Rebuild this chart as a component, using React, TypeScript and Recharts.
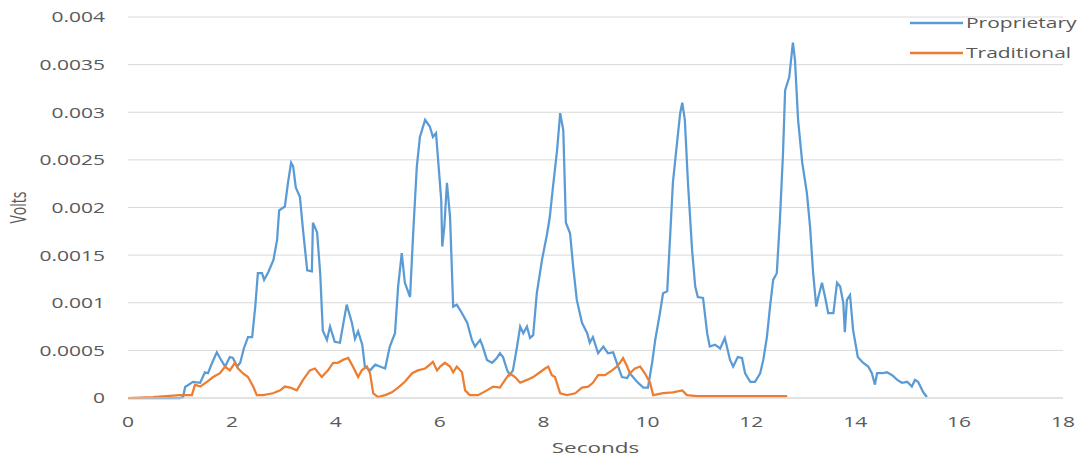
import { LineChart, Line, XAxis, YAxis, CartesianGrid, Label } from 'recharts'

// Proprietary sensor trace (seconds / volts)
const propX = [
  0, 0.5, 1.0, 1.06, 1.1, 1.25, 1.39, 1.48, 1.54, 1.62, 1.71, 1.77, 1.87, 1.96, 2.02, 2.1, 2.16, 2.23, 2.31, 2.39,
  2.45, 2.5, 2.58, 2.62, 2.7, 2.8, 2.87, 2.91, 3.02, 3.08, 3.14, 3.18, 3.23, 3.31, 3.37, 3.45, 3.54, 3.56, 3.64, 3.7,
  3.75, 3.83, 3.89, 3.98, 4.08, 4.21, 4.31, 4.37, 4.43, 4.51, 4.56, 4.66, 4.76, 4.85, 4.95, 5.04, 5.14, 5.2, 5.27, 5.33,
  5.43, 5.49, 5.56, 5.62, 5.72, 5.81, 5.87, 5.93, 5.97, 6.03, 6.05, 6.09, 6.14, 6.2, 6.26, 6.33, 6.43, 6.53, 6.62, 6.68,
  6.78, 6.83, 6.91, 7.01, 7.1, 7.16, 7.22, 7.3, 7.35, 7.41, 7.49, 7.55, 7.61, 7.68, 7.74, 7.8, 7.87, 7.97, 8.07, 8.12,
  8.18, 8.26, 8.32, 8.38, 8.43, 8.51, 8.57, 8.64, 8.74, 8.84, 8.89, 8.95, 9.05, 9.15, 9.24, 9.34, 9.41, 9.51, 9.61, 9.66,
  9.8, 9.92, 10.01, 10.09, 10.15, 10.24, 10.3, 10.38, 10.44, 10.49, 10.57, 10.63, 10.67, 10.72, 10.78, 10.86, 10.92, 10.97, 11.07, 11.15,
  11.2, 11.3, 11.4, 11.49, 11.59, 11.65, 11.74, 11.82, 11.88, 11.98, 12.07, 12.17, 12.23, 12.3, 12.36, 12.42, 12.49, 12.55, 12.61, 12.65,
  12.73, 12.8, 12.84, 12.9, 12.98, 13.07, 13.13, 13.19, 13.25, 13.29, 13.36, 13.42, 13.48, 13.58, 13.65, 13.71, 13.77, 13.8, 13.84, 13.9,
  13.96, 14.05, 14.15, 14.25, 14.32, 14.38, 14.42, 14.52, 14.61, 14.71, 14.81, 14.9, 15.0, 15.09, 15.15, 15.21, 15.31, 15.38,
]
const propY = [
  0, 0, 0, 0.00001, 0.000116, 0.00017, 0.00016, 0.00027, 0.00026, 0.00037, 0.00048, 0.00042, 0.00033, 0.00043, 0.00042, 0.00033, 0.00037, 0.00052, 0.00064, 0.00064,
  0.00096, 0.00131, 0.00131, 0.00124, 0.00132, 0.00145, 0.00166, 0.00197, 0.00201, 0.00226, 0.00247, 0.00243, 0.00221, 0.00211, 0.00176, 0.00134, 0.00133, 0.00184, 0.00174, 0.00131,
  0.00071, 0.00061, 0.00075, 0.00059, 0.00058, 0.00098, 0.00079, 0.00062, 0.0007, 0.00056, 0.00033, 0.00029, 0.00035, 0.00033, 0.00031, 0.00054, 0.00068, 0.00117, 0.00152, 0.00121,
  0.00106, 0.00173, 0.00243, 0.00274, 0.00292, 0.00285, 0.00274, 0.00278, 0.0025, 0.00208, 0.00159, 0.0018, 0.00226, 0.0019, 0.00096, 0.00098, 0.00089, 0.00079, 0.00061, 0.00054,
  0.00061, 0.00054, 0.0004, 0.00037, 0.00042, 0.00047, 0.00043, 0.00029, 0.00024, 0.00029, 0.00054, 0.00075, 0.00068, 0.00075, 0.00063, 0.00066, 0.0011, 0.00145, 0.00173, 0.0019,
  0.00221, 0.0026, 0.00299, 0.00281, 0.00184, 0.00173, 0.00138, 0.00103, 0.00079, 0.00068, 0.00058, 0.00064, 0.00047, 0.00054, 0.00047, 0.00048, 0.00037, 0.00022, 0.00021, 0.00026,
  0.00017, 0.00011, 0.00011, 0.00037, 0.00061, 0.00089, 0.0011, 0.00112, 0.00173, 0.00226, 0.00268, 0.00299, 0.0031, 0.00292, 0.00226, 0.00155, 0.00117, 0.00106, 0.00105, 0.00068,
  0.00054, 0.00056, 0.00052, 0.00063, 0.0004, 0.00033, 0.00043, 0.00042, 0.00026, 0.00017, 0.00017, 0.00026, 0.0004, 0.00064, 0.00096, 0.00124, 0.00131, 0.00187, 0.00257, 0.00323,
  0.00337, 0.00373, 0.00355, 0.00292, 0.00247, 0.00215, 0.0018, 0.00131, 0.00096, 0.00106, 0.00121, 0.00106, 0.00089, 0.00089, 0.00121, 0.00117, 0.001, 0.00069, 0.00103, 0.00108,
  0.00071, 0.00043, 0.00037, 0.00033, 0.00026, 0.00014, 0.00026, 0.00026, 0.00027, 0.00024, 0.00019, 0.00016, 0.00017, 0.00012, 0.00019, 0.00017, 0.00006, 0.00001,
]

// Traditional sensor trace
const tradX = [
  0, 0.48, 1.0, 1.23, 1.29, 1.39, 1.52, 1.64, 1.77, 1.87, 1.96, 2.06, 2.12, 2.21, 2.31, 2.41, 2.48, 2.6, 2.79, 2.93,
  3.02, 3.12, 3.25, 3.37, 3.5, 3.6, 3.73, 3.85, 3.95, 4.04, 4.14, 4.24, 4.33, 4.43, 4.5, 4.6, 4.66, 4.72, 4.81, 4.95,
  5.08, 5.2, 5.33, 5.47, 5.58, 5.72, 5.81, 5.87, 5.95, 6.01, 6.1, 6.2, 6.26, 6.33, 6.43, 6.49, 6.58, 6.74, 6.91, 7.03,
  7.16, 7.26, 7.35, 7.45, 7.55, 7.68, 7.8, 7.93, 8.03, 8.09, 8.16, 8.22, 8.32, 8.45, 8.61, 8.74, 8.86, 8.95, 9.05, 9.18,
  9.32, 9.41, 9.47, 9.53, 9.61, 9.66, 9.76, 9.86, 9.95, 10.05, 10.11, 10.3, 10.49, 10.67, 10.76, 10.95, 12.69,
]
const tradY = [
  0, 0.00001, 0.00003, 0.00003, 0.00014, 0.00012, 0.00017, 0.00022, 0.00026, 0.00033, 0.00029, 0.00037, 0.00031, 0.00026, 0.00022, 0.00012, 0.00003, 0.00003, 0.00005, 0.00008,
  0.00012, 0.00011, 0.00008, 0.00019, 0.00029, 0.00031, 0.00022, 0.00029, 0.00037, 0.00037, 0.0004, 0.00042, 0.00033, 0.00022, 0.00029, 0.00033, 0.00026, 0.00005, 0.00001, 0.00003,
  0.00006, 0.00011, 0.00017, 0.00026, 0.00029, 0.00031, 0.00035, 0.00038, 0.00029, 0.00033, 0.00037, 0.00033, 0.00027, 0.00033, 0.00027, 0.00008, 0.00003, 0.00003, 0.00008, 0.00012,
  0.00011, 0.00019, 0.00026, 0.00022, 0.00016, 0.00019, 0.00022, 0.00027, 0.00031, 0.00033, 0.00024, 0.00022, 0.00005, 0.00003, 0.00005, 0.00011, 0.00012, 0.00016, 0.00024, 0.00024,
  0.00029, 0.00033, 0.00037, 0.00042, 0.00033, 0.00026, 0.00031, 0.00033, 0.00026, 0.00016, 0.00003, 0.00005, 0.00006, 0.00008, 0.00003, 0.00002, 0.00002,
]

const xTicks = [0, 2, 4, 6, 8, 10, 12, 14, 16, 18]
const yTicks = [0, 0.0005, 0.001, 0.0015, 0.002, 0.0025, 0.003, 0.0035, 0.004]
const seriesNames = ['Proprietary', 'Traditional']

const BLUE = '#5B9BD5'
const ORANGE = '#ED7D31'
const TEXT = '#595959'
const FONT = '"Open Sans", sans-serif'
const STRETCH = 1.5

const propData = propX.map((x, i) => ({ x, v: propY[i] }))
const tradData = tradX.map((x, i) => ({ x, v: tradY[i] }))

const XTick = ({ x, y, payload }: any) => (
  <text transform={`translate(${x},${y + 22}) scale(${STRETCH},1)`} textAnchor="middle" dominantBaseline="central"
    fill={TEXT} fontSize={14} fontFamily={FONT}>{payload.value}</text>
)

const YTick = ({ x, y, payload }: any) => (
  <text transform={`translate(${x - 21},${y}) scale(${STRETCH},1)`} textAnchor="end" dominantBaseline="central"
    fill={TEXT} fontSize={14} fontFamily={FONT}>{String(payload.value)}</text>
)

const XTitle = ({ viewBox }: any) => (
  <text transform={`translate(${viewBox.x + viewBox.width / 2},448) scale(${STRETCH},1)`} textAnchor="middle"
    dominantBaseline="central" fill={TEXT} fontSize={15} fontFamily={FONT}>Seconds</text>
)

const YTitle = ({ viewBox }: any) => (
  <text transform={`translate(18,${viewBox.y + viewBox.height / 2}) rotate(-90) scale(1,${STRETCH})`} textAnchor="middle"
    dominantBaseline="central" fill={TEXT} fontSize={14} fontFamily={FONT}>Volts</text>
)

const LegendBox = () => {
  const colors = [BLUE, ORANGE]
  return (
    <svg width={171} height={70} style={{ position: 'absolute', left: 910, top: 15 }}>
      {seriesNames.map((name, i) => (
        <g key={name}>
          <line x1={0} x2={53} y1={8 + i * 30} y2={8 + i * 30} stroke={colors[i]} strokeWidth={2.5} />
          <text transform={`translate(56,${8 + i * 30}) scale(${STRETCH},1)`} dominantBaseline="central"
            fill={TEXT} fontSize={14} fontFamily={FONT}>{name}</text>
        </g>
      ))}
    </svg>
  )
}

export default function App() {
  return (
    <div style={{ position: 'absolute', left: 0, top: 0, width: 1081, height: 462, background: '#fff' }}>
      <LineChart width={1081} height={462} margin={{ top: 17, right: 18, bottom: 0, left: 0 }}>
        <CartesianGrid vertical={false} stroke="#d9d9d9" />
        <XAxis dataKey="x" type="number" domain={[0, 18]} ticks={xTicks} height={64}
          axisLine={{ stroke: '#d9d9d9' }} tickLine={false} tickSize={0} tick={<XTick />} allowDuplicatedCategory={false}>
          <Label content={<XTitle />} />
        </XAxis>
        <YAxis type="number" domain={[0, 0.004]} ticks={yTicks} width={128} axisLine={false} tickLine={false}
          tickSize={0} tick={<YTick />}>
          <Label content={<YTitle />} />
        </YAxis>
        <Line data={propData} dataKey="v" name={seriesNames[0]} stroke={BLUE} strokeWidth={2.25} dot={false}
          isAnimationActive={false} />
        <Line data={tradData} dataKey="v" name={seriesNames[1]} stroke={ORANGE} strokeWidth={2.25} dot={false}
          isAnimationActive={false} />
      </LineChart>
      <LegendBox />
    </div>
  )
}
